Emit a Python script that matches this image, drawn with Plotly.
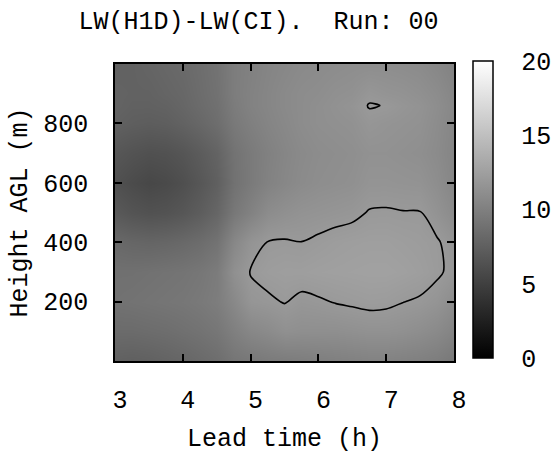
import plotly.graph_objects as go

# Lead time (h) columns and height (m) rows
lead_time = [3.0, 3.25, 3.5, 3.75, 4.0, 4.25, 4.5, 4.75, 5.0, 5.25, 5.5,
             5.75, 6.0, 6.25, 6.5, 6.75, 7.0, 7.25, 7.5, 7.75, 8.0]
height = [0, 100, 200, 300, 400, 500, 600, 700, 800, 860, 900, 1000]

# LW(H1D)-LW(CI) values, one list per lead-time column (bottom -> top)
col_300 = [7.6, 8.4, 8.9, 8.8, 8.2, 7.0, 6.3, 6.8, 7.6, 7.8, 7.8, 7.6]
col_325 = [7.5, 8.4, 9.0, 8.8, 8.0, 6.6, 5.9, 6.5, 7.4, 7.6, 7.7, 7.7]
col_350 = [7.6, 8.5, 9.1, 8.9, 7.9, 6.4, 5.6, 6.3, 7.3, 7.6, 7.7, 7.9]
col_375 = [7.8, 8.6, 9.2, 9.0, 8.0, 6.5, 5.8, 6.4, 7.4, 7.7, 7.9, 8.1]
col_400 = [8.0, 8.8, 9.3, 9.1, 8.2, 6.8, 6.2, 6.7, 7.7, 8.0, 8.1, 8.3]
col_425 = [8.3, 9.0, 9.5, 9.3, 8.5, 7.3, 6.8, 7.2, 8.1, 8.4, 8.5, 8.6]
col_450 = [8.6, 9.3, 9.8, 9.7, 9.0, 8.0, 7.5, 7.8, 8.6, 8.8, 8.9, 9.0]
col_475 = [9.2, 10.0, 10.7, 11.3, 10.6, 9.4, 8.9, 9.0, 9.5, 9.7, 9.8, 9.8]
col_500 = [9.4, 10.6, 11.7, 12.05, 11.6, 10.2, 9.6, 9.6, 10.0, 10.2, 10.2, 10.1]
col_525 = [9.6, 10.9, 11.85, 12.3, 12.02, 11.0, 10.2, 10.1, 10.4, 10.5, 10.5, 10.4]
col_550 = [9.7, 11.3, 12.05, 12.4, 12.08, 11.3, 10.6, 10.5, 10.7, 10.8, 10.8, 10.6]
col_575 = [9.8, 11.2, 11.8, 12.4, 12.01, 11.5, 10.9, 10.8, 11.0, 11.0, 11.0, 10.8]
col_600 = [9.9, 11.2, 11.9, 12.5, 12.15, 11.6, 11.1, 11.0, 11.2, 11.2, 11.1, 10.9]
col_625 = [10.0, 11.2, 12.05, 12.55, 12.3, 11.7, 11.2, 11.1, 11.3, 11.4, 11.3, 11.0]
col_650 = [10.1, 11.3, 12.15, 12.6, 12.4, 11.8, 11.3, 11.2, 11.4, 11.6, 11.4, 11.1]
col_675 = [10.2, 11.4, 12.25, 12.65, 12.45, 12.05, 11.6, 11.4, 11.75, 12.05, 11.8, 11.1]
col_700 = [10.2, 11.4, 12.2, 12.65, 12.45, 12.08, 11.6, 11.4, 11.6, 11.97, 11.6, 11.1]
col_725 = [10.1, 11.3, 12.02, 12.55, 12.35, 12.03, 11.55, 11.3, 11.5, 11.7, 11.5, 11.0]
col_750 = [10.0, 11.1, 11.9, 12.4, 12.25, 12.03, 11.5, 11.2, 11.4, 11.5, 11.3, 10.9]
col_775 = [9.8, 10.8, 11.6, 12.15, 12.1, 11.5, 11.1, 10.9, 11.0, 11.1, 11.0, 10.6]
col_800 = [9.4, 10.3, 11.0, 11.75, 11.6, 10.9, 10.5, 10.4, 10.5, 10.6, 10.5, 10.2]

contour_level = 12.0
x_ticks = [3, 4, 5, 6, 7, 8]
y_ticks = [200, 400, 600, 800]
cbar_ticks = [0, 5, 10, 15, 20]
title_text = "LW(H1D)-LW(CI).\u00a0 Run: 00"

columns = [col_300, col_325, col_350, col_375, col_400, col_425, col_450,
           col_475, col_500, col_525, col_550, col_575, col_600, col_625,
           col_650, col_675, col_700, col_725, col_750, col_775, col_800]
# z[row][col]
z = [[columns[j][i] for j in range(len(lead_time))] for i in range(len(height))]

FONT = "Liberation Mono"
FS = 25

W, H = 554, 462
ml, mr, mt, mb = 115, 100, 64, 101
pw, ph = W - ml - mr, H - mt - mb

# colorbar geometry (pixels)
cb_left, cb_w = 473, 20
cb_top, cb_bot = 61, 358
cb_len = cb_bot - cb_top
cb_x = (cb_left - ml) / pw
cb_y0 = (H - mb - cb_bot) / ph
cb_len_paper = cb_len / ph

fig = go.Figure()
fig.add_trace(go.Heatmap(
    x=lead_time, y=height, z=z,
    zmin=0, zmax=20, zsmooth="best",
    colorscale=[[0, "black"], [1, "white"]],
    colorbar=dict(
        x=cb_x, xanchor="left", xpad=0,
        y=cb_y0, yanchor="bottom", ypad=0,
        len=cb_len, lenmode="pixels",
        thickness=cb_w, thicknessmode="pixels",
        outlinewidth=1.5, outlinecolor="black",
        tickvals=cbar_ticks, ticks="outside", ticklen=23,
        tickcolor="rgba(0,0,0,0)",
        tickfont=dict(family=FONT, size=FS, color="black"),
    ),
    hoverinfo="skip",
))
fig.add_trace(go.Contour(
    x=lead_time, y=height, z=z,
    contours=dict(start=contour_level, end=contour_level, size=1, coloring="none"),
    line=dict(color="black", width=1.6, smoothing=0.9),
    showscale=False, hoverinfo="skip",
))

# inner dashed tick marks on colorbar (both sides), at colorbar tick values
shapes = []
tl = 7
for v in cbar_ticks[1:-1]:
    yp = cb_y0 + v / 20 * cb_len_paper
    for xa, xb in [(cb_left, cb_left + tl), (cb_left + cb_w - tl, cb_left + cb_w)]:
        shapes.append(dict(type="line", xref="paper", yref="paper",
                           x0=(xa - ml) / pw, x1=(xb - ml) / pw, y0=yp, y1=yp,
                           line=dict(color="black", width=1.5)))

axis_common = dict(
    showline=True, linecolor="black", linewidth=1.5, mirror="ticks",
    ticks="inside", ticklen=7, tickwidth=1.5, tickcolor="black",
    showgrid=False, zeroline=False,
    tickfont=dict(family=FONT, size=FS, color="black"),
)

fig.update_layout(
    width=W, height=H,
    margin=dict(l=ml, r=mr, t=mt, b=mb, autoexpand=False),
    paper_bgcolor="white", plot_bgcolor="white",
    title=dict(text=title_text, x=258.5 / W, xanchor="center",
               y=1 - 20 / H, yanchor="middle", xref="container", yref="container",
               font=dict(family=FONT, size=FS, color="black")),
    xaxis=dict(range=[3, 8], tickvals=x_ticks, ticklabelstandoff=15,
               ticklabelshift=5,
               title=dict(text="Lead time (h)", standoff=14,
                          font=dict(family=FONT, size=FS, color="black")),
               **axis_common),
    yaxis=dict(range=[0, 1000], tickvals=y_ticks, ticklabelstandoff=20,
               title=dict(text="Height AGL (m)", standoff=8,
                          font=dict(family=FONT, size=FS, color="black")),
               **axis_common),
    shapes=shapes,
    showlegend=False,
)

fig.write_html("out.html")
